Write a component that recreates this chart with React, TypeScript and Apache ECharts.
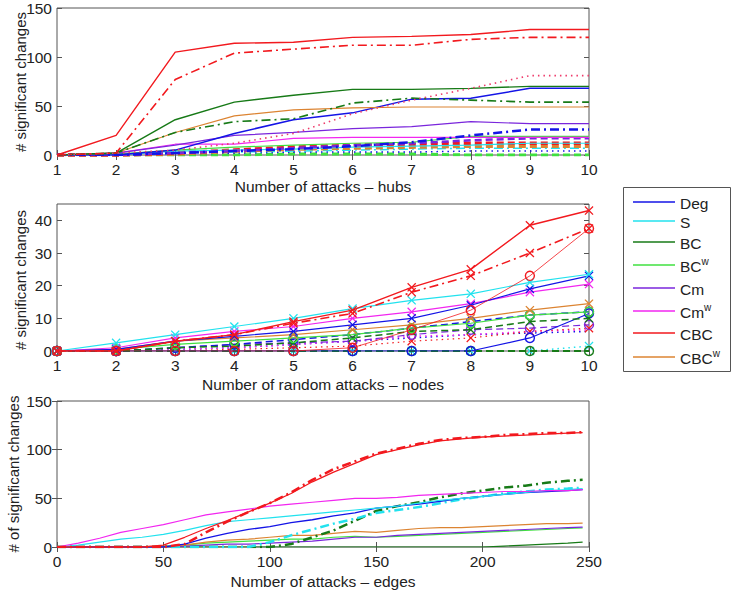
import React, { useEffect, useRef } from 'react';
import * as echarts from 'echarts';

const FONT = '"Liberation Sans", Arial, Helvetica, sans-serif';

const COLORS: Record<string, string> = {
  Deg: '#1414e6',
  S: '#22e2ee',
  BC: '#177a17',
  BCw: '#40e040',
  Cm: '#7a26dc',
  Cmw: '#f226f0',
  CBC: '#f2191e',
  CBCw: '#dc8432',
  Pink: '#ee3a6a',
};

const legendKeys = ['Deg', 'S', 'BC', 'BCw', 'Cm', 'Cmw', 'CBC', 'CBCw'];
const legendMain = ['Deg', 'S', 'BC', 'BC', 'Cm', 'Cm', 'CBC', 'CBC'];
const legendSup = ['', '', '', 'w', '', 'w', '', 'w'];

// ---------- Panel 1: hubs ----------
const hubsX = [1, 2, 3, 4, 5, 6, 7, 8, 9, 10];
const hubsCBC = [0, 20, 105, 114, 115, 120, 121, 123, 128, 128];
const hubsCBCdd = [0, 2, 77, 104, 108, 112, 112, 118, 120, 120];
const hubsCBCdot = [0, 2, 5, 12, 22, 42, 56, 68, 81, 81];
const hubsBC = [0, 2, 36, 54, 61, 67, 67, 68, 70, 70];
const hubsBCdd = [0, 2, 23, 34, 37, 53, 58, 56, 54, 54];
const hubsCBCw = [0, 2, 23, 40, 46, 48, 49, 49, 49, 49];
const hubsDeg = [0, 0, 5, 22, 36, 43, 57, 58, 68, 68];
const hubsCm = [0, 2, 10, 20, 23, 27, 29, 34, 32, 32];
const hubsDegDd = [0, 0, 2, 4, 6, 9, 13, 20, 26, 26];
const hubsCmw = [0, 2, 11, 11, 17, 18, 18, 18, 18, 18];
const hubsBCw = [0, 1, 5, 8, 10, 12, 13, 19, 19, 19];
const hubsCmDash = [0, 0, 2, 4, 7, 10, 12, 15, 17, 17];
const hubsS = [0, 0, 4, 5, 6, 8, 9, 10, 12, 12];
const hubsCBCdash = [0, 0, 2, 5, 8, 10, 11, 12, 12, 12];
const hubsCBCwDash = [0, 0, 1, 4, 6, 7, 8, 9, 9, 9];
const hubsSdd = [0, 0, 2, 3, 4, 5, 6, 7, 7, 7];
const hubsDegDot = [0, 0, 1, 2, 3, 3, 3, 4, 4, 4];
const hubsBCwDash = [0, 0, 0, 0, 1, 1, 1, 0, 0, 0];

// ---------- Panel 2: random nodes ----------
const nodesX = [1, 2, 3, 4, 5, 6, 7, 8, 9, 10];
const nodesCBC = [0, 0, 3, 5, 9, 12.5, 19.5, 25, 38.5, 43];
const nodesCBCdd = [0, 0, 3, 5, 8.5, 11.5, 18, 23, 30, 37.5];
const nodesCBCthin = [0, 0, 0, 0, 0, 1, 6.5, 12.5, 23, 37.5];
const nodesS = [0, 2.5, 5, 7.5, 10, 13, 15.5, 17.5, 21, 23.5];
const nodesDeg = [0, 0.5, 3, 4.5, 6, 8, 10, 14, 19, 23];
const nodesCmw = [0, 1, 4, 6, 7.5, 10, 12, 14.5, 18, 20.5];
const nodesCBCw = [0, 0.5, 3, 4, 5, 6.5, 8, 10, 12.5, 14.5];
const nodesBCw = [0, 0.5, 2, 3, 4, 5, 7, 8.5, 11, 12];
const nodesBCdash = [0, 0, 1, 1.5, 2.5, 4, 6, 6.5, 9, 10];
const nodesDegDash = [0, 0, 1, 2, 3.5, 5, 7, 9, 11, 12];
const nodesDegO = [0, 0, 0, 0, 0, 0, 0, 0, 4, 11.5];
const nodesBCzero = [0, 0, 0, 0, 0, 0, 0, 0, 0, 0];
const nodesSdot = [0, 0, 0, 0, 0, 0, 0, 0, 0, 1.5];
const nodesCm = [0, 0, 1, 2, 2.5, 3, 5, 6.5, 7, 8];
const nodesCBClow = [0, 0, 0, 0.5, 1, 1.5, 3, 4, 6, 7];
const nodesDegDot = [0, 0, 0.5, 1, 2, 3, 4, 5, 5.5, 6];
const nodesCmwDot = [0, 0, 0.5, 1, 2, 3, 4.5, 5, 6, 6.5];

// ---------- Panel 3: edges ----------
const edgesX = [0, 10, 20, 30, 40, 50, 60, 70, 80, 90, 100, 110, 120, 130, 140, 150, 160, 170, 180, 190, 200, 210, 220, 230, 240, 247];
const edgesCBC = [0, 0, 0, 0, 0, 2, 10, 19, 27, 36, 45, 55, 67, 77, 86, 95, 100, 105, 109, 111, 113, 114, 115, 116, 117, 117.5];
const edgesCBCdd = [0, 0, 0, 0, 0, 0, 3, 15, 26, 36, 45, 56, 69, 80, 88, 96, 101, 106, 110, 112, 113, 115, 116, 117, 117, 118];
const edgesCmw = [0, 4, 9, 15, 19, 23, 28, 33, 36, 39, 42, 44, 46, 48, 50, 50, 51, 53, 54, 55, 56, 57, 57, 58, 58, 59];
const edgesS = [0, 2, 5, 8, 10, 13, 17, 22, 26, 28, 30, 32, 34, 36, 38, 40, 42, 45, 48, 50, 52, 54, 56, 58, 59, 60];
const edgesDeg = [0, 0, 0, 0, 0, 0, 3, 9, 14, 18, 21, 25, 28, 32, 35, 40, 42, 44, 47, 50, 52, 54, 56, 57, 58, 59];
const edgesBCdd = [0, 0, 0, 0, 0, 0, 0, 0, 0, 0, 0, 3, 10, 17, 27, 37, 42, 46, 51, 55, 58, 61, 63, 66, 68, 69];
const edgesSdd = [0, 0, 0, 0, 0, 0, 0, 0, 0, 0, 5, 12, 18, 24, 29, 35, 38, 41, 45, 49, 52, 55, 57, 59, 60, 61];
const edgesCBCw = [0, 0, 0, 0, 0, 0, 2, 5, 7, 8, 10, 12, 12, 14, 16, 15, 17, 19, 20, 20, 21, 22, 23, 24, 24, 24.5];
const edgesCm = [0, 0, 0, 0, 0, 0, 1, 2, 3, 3, 4, 5, 6, 8, 10, 10, 12, 13, 14, 15, 16, 17, 18, 19, 20, 20.5];
const edgesBCw = [0, 0, 0, 0, 0, 1, 2, 4, 5, 6, 7, 8, 8, 10, 11, 10, 11, 12, 13, 14, 15, 16, 17, 18, 19, 19.5];
const edgesBC = [0, 0, 0, 0, 0, 0, 0, 0, 0, 0, 0, 0, 0, 0, 0, 0, 0, 0, 0, 0, 0, 1, 2, 3, 4, 5];

const X_SYMBOL = 'path://M1,0L5,4L9,0L10,1L6,5L10,9L9,10L5,6L1,10L0,9L4,5L0,1Z';

const DASH: Record<string, any> = {
  solid: 'solid',
  dd: [9, 4, 2, 4],
  dash: [7, 4],
  dot: [1.5, 4],
};

type Entry = [number[], string, string, number, string?];

const panel1: Entry[] = [
  [hubsBCwDash, 'BCw', 'dash', 3],
  [hubsDegDot, 'Deg', 'dot', 1.5],
  [hubsSdd, 'S', 'dd', 1.5],
  [hubsCBCwDash, 'CBCw', 'dash', 3.5],
  [hubsCBCdash, 'CBC', 'dash', 3.5],
  [hubsS, 'S', 'solid', 1.2],
  [hubsCmDash, 'Cm', 'dash', 2.5],
  [hubsBCw, 'BCw', 'solid', 1.2],
  [hubsCmw, 'Cmw', 'solid', 1.2],
  [hubsDegDd, 'Deg', 'dd', 2.5],
  [hubsCm, 'Cm', 'solid', 1.2],
  [hubsDeg, 'Deg', 'solid', 1.5],
  [hubsCBCw, 'CBCw', 'solid', 1.2],
  [hubsBCdd, 'BC', 'dd', 1.6],
  [hubsBC, 'BC', 'solid', 1.4],
  [hubsCBCdot, 'Pink', 'dot', 1.6],
  [hubsCBCdd, 'CBC', 'dd', 1.6],
  [hubsCBC, 'CBC', 'solid', 1.4],
];

const panel2: Entry[] = [
  [nodesDegDot, 'Deg', 'dot', 1.5],
  [nodesCmwDot, 'Cmw', 'dot', 1.5],
  [nodesCBClow, 'CBC', 'dot', 1.2, 'x'],
  [nodesCm, 'Cm', 'dash', 1.2, 'o'],
  [nodesSdot, 'S', 'dot', 1.5, 'x'],
  [nodesBCzero, 'BC', 'dash', 2, 'o'],
  [nodesDegO, 'Deg', 'solid', 1.2, 'o'],
  [nodesDegDash, 'Deg', 'dash', 1.5, 'o'],
  [nodesBCdash, 'BC', 'dash', 1.5, 'x'],
  [nodesBCw, 'BCw', 'solid', 1.2, 'o'],
  [nodesCBCw, 'CBCw', 'solid', 1.2, 'x'],
  [nodesCmw, 'Cmw', 'solid', 1.2, 'x'],
  [nodesDeg, 'Deg', 'solid', 1.2, 'x'],
  [nodesS, 'S', 'solid', 1.2, 'x'],
  [nodesCBCthin, 'CBC', 'solid', 0.8, 'o'],
  [nodesCBCdd, 'CBC', 'dd', 1.6, 'x'],
  [nodesCBC, 'CBC', 'solid', 1.4, 'x'],
];

const panel3: Entry[] = [
  [edgesBC, 'BC', 'solid', 1.2],
  [edgesBCw, 'BCw', 'solid', 1.2],
  [edgesCm, 'Cm', 'solid', 1.2],
  [edgesCBCw, 'CBCw', 'solid', 1.2],
  [edgesBCdd, 'BC', 'dd', 2.5],
  [edgesSdd, 'S', 'dd', 2.5],
  [edgesDeg, 'Deg', 'solid', 1.3],
  [edgesS, 'S', 'solid', 1.2],
  [edgesCmw, 'Cmw', 'solid', 1.2],
  [edgesCBCdd, 'CBC', 'dd', 2.5],
  [edgesCBC, 'CBC', 'solid', 1.3],
];

function buildSeries(entries: Entry[], xs: number[], panel: number) {
  return entries.map(([vals, key, style, width, sym], i) => {
    const color = COLORS[key];
    const s: any = {
      type: 'line',
      xAxisIndex: panel * 2,
      yAxisIndex: panel * 2,
      data: xs.map((x, j) => [x, vals[j]]),
      lineStyle: { color, width, type: DASH[style] },
      itemStyle: { color },
      symbol: 'none',
      silent: true,
      z: 2 + i * 0.01,
      clip: true,
    };
    if (sym === 'x') {
      s.symbol = X_SYMBOL;
      s.symbolSize = 9;
      s.showSymbol = true;
      s.itemStyle = { color, borderWidth: 0 };
    } else if (sym === 'o') {
      s.symbol = 'circle';
      s.symbolSize = 9;
      s.showSymbol = true;
      s.itemStyle = { color: 'rgba(0,0,0,0)', borderColor: color, borderWidth: 1.4 };
    }
    return s;
  });
}

const grids = [
  { left: 57, top: 8, width: 532, height: 147 },
  { left: 57, top: 204, width: 532, height: 147 },
  { left: 57, top: 401, width: 532, height: 146 },
];

const xRanges = [
  { min: 1, max: 10, interval: 1 },
  { min: 1, max: 10, interval: 1 },
  { min: 0, max: 250, interval: 50 },
];
const yRanges = [
  { min: 0, max: 150, interval: 50 },
  { min: 0, max: 45, interval: 10 },
  { min: 0, max: 150, interval: 50 },
];

const xTitles = ['Number of attacks \u2013 hubs', 'Number of random attacks \u2013 nodes', 'Number of attacks \u2013 edges'];
const xTitleY = [186, 384, 581];
const yTitles = ['# significant changes', '# significant changes', '# of significant changes'];
const yTitleX = [20, 20, 13];
const yTitleY = [82, 280, 474];

const legendY = [202, 221, 242, 265, 288, 311, 333, 357];

export default function App() {
  const ref = useRef<HTMLDivElement>(null);
  useEffect(() => {
    if (!ref.current) return;
    const chart = echarts.init(ref.current, undefined, { renderer: 'svg' });
    const axisLabel = { fontFamily: FONT, fontSize: 15.5, color: '#222' };
    const xAxis: any[] = [];
    const yAxis: any[] = [];
    for (let g = 0; g < 3; g++) {
      const common = {
        gridIndex: g,
        type: 'value',
        splitLine: { show: false },
        axisLine: { show: false },
        axisTick: { show: true, inside: true, length: 5, lineStyle: { color: '#555' } },
      };
      xAxis.push({ ...common, ...xRanges[g], position: 'bottom', axisLabel: { ...axisLabel, margin: 6 } });
      xAxis.push({ ...common, ...xRanges[g], position: 'top', axisLabel: { show: false } });
      yAxis.push({ ...common, ...yRanges[g], position: 'left', axisLabel: { ...axisLabel, margin: 5, showMaxLabel: g !== 1 } });
      yAxis.push({ ...common, ...yRanges[g], position: 'right', axisLabel: { show: false } });
    }
    const series = [
      ...buildSeries(panel1, hubsX, 0),
      ...buildSeries(panel2, nodesX, 1),
      ...buildSeries(panel3, edgesX, 2),
    ];
    const graphic: any[] = [];
    xTitles.forEach((t, i) => {
      graphic.push({
        type: 'text', x: 323, y: xTitleY[i],
        style: { text: t, fontFamily: FONT, fontSize: 15.5, fill: '#222', align: 'center', verticalAlign: 'middle' },
      });
    });
    yTitles.forEach((t, i) => {
      graphic.push({
        type: 'text', x: yTitleX[i], y: yTitleY[i], rotation: Math.PI / 2,
        style: { text: t, fontFamily: FONT, fontSize: 15, fill: '#222', align: 'center', verticalAlign: 'middle' },
      });
    });
    graphic.push({
      type: 'rect', shape: { x: 623.5, y: 187.5, width: 107, height: 184 },
      style: { fill: '#fff', stroke: '#555', lineWidth: 1 },
    });
    legendKeys.forEach((k, i) => {
      graphic.push({
        type: 'line', shape: { x1: 633, y1: legendY[i], x2: 675, y2: legendY[i] },
        style: { stroke: COLORS[k], lineWidth: 1.5 },
      });
      const txt = legendSup[i] ? `{m|${legendMain[i]}}{s|${legendSup[i]}}` : `{m|${legendMain[i]}}`;
      graphic.push({
        type: 'text', x: 680, y: legendY[i],
        style: {
          text: txt, align: 'left', verticalAlign: 'middle',
          rich: {
            m: { fontFamily: FONT, fontSize: 15.5, fill: '#222', lineHeight: 18, verticalAlign: 'bottom' },
            s: { fontFamily: FONT, fontSize: 10, fill: '#222', lineHeight: 14, verticalAlign: 'top' },
          },
        },
      });
    });
    chart.setOption({
      animation: false,
      backgroundColor: '#fff',
      grid: grids.map((g) => ({ ...g, show: true, borderColor: '#555', borderWidth: 1, backgroundColor: 'transparent' })),
      xAxis,
      yAxis,
      series,
      graphic,
    });
    return () => chart.dispose();
  }, []);
  return <div ref={ref} style={{ width: 733, height: 593, position: 'absolute', left: 0, top: 0 }} />;
}
